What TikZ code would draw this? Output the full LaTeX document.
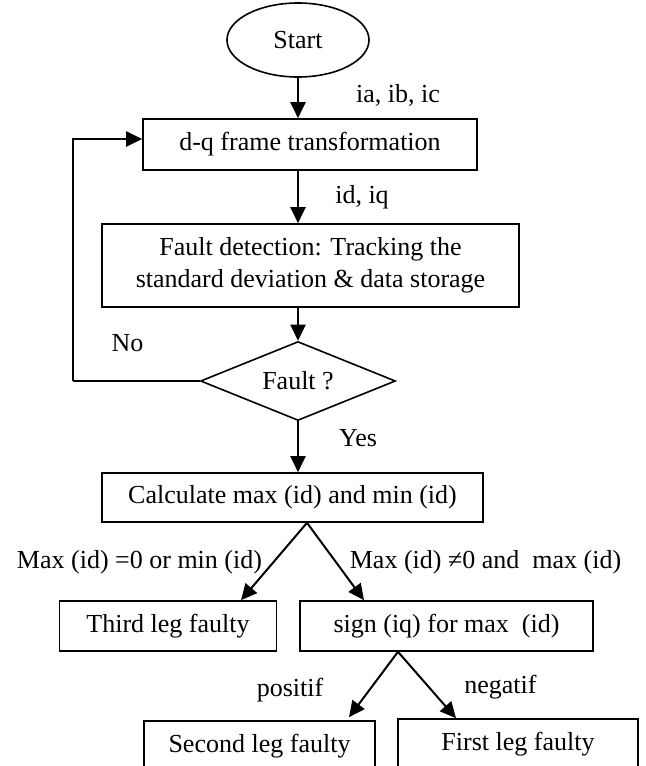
\documentclass[tikz,border=0pt]{standalone}
\usepackage{amsmath, amssymb}
\usepackage{fontspec}
\setmainfont{Liberation Serif}
\usepackage{tikz}
\usetikzlibrary{arrows.meta,positioning,shapes.geometric,calc}

\begin{document}
\begin{tikzpicture}[
        x=0.5pt, y=-0.5pt,
        font=\fontsize{13}{16}\selectfont,
        box/.style={draw, line width=0.8pt, minimum height=25pt, align=center, inner sep=2pt},
        startnode/.style={draw, ellipse, line width=0.8pt, minimum width=71pt, minimum height=37pt, inner sep=0pt},
        decision/.style={draw, diamond, aspect=2.4, line width=0.8pt, minimum width=97.5pt, minimum height=39.5pt, inner sep=0pt},
        lbl/.style={inner sep=0pt},
        arr/.style={-{Triangle[length=8pt,width=7.5pt]}, line width=1pt}
    ]
    \useasboundingbox (0,0) rectangle (646,766);

    \node[startnode] (start) at (298,40) {Start};
    \node[box, minimum width=167pt, minimum height=25.5pt] (dq) at (310,144.5) {d-q frame transformation};
    \node[box, minimum width=208.5pt, minimum height=41.5pt] (detect) at (310.5,265.5) {Fault detection: Tracking the\\ standard deviation \& data storage};
    \node[decision] (fault) at (298,381) {Fault ?};
    \node[box, minimum width=190.5pt, minimum height=24.5pt] (calc) at (292.5,497.5) {Calculate max (id) and min (id)};
    \node[box, minimum width=108.5pt] (third) at (168,626) {Third leg faulty};
    \node[box, minimum width=146.5pt] (sign) at (446.5,626) {sign (iq) for max~ (id)};
    \node[box, minimum width=115.5pt] (second) at (259.5,746) {Second leg faulty};
    \node[box, minimum width=120pt] (first) at (518,744) {First leg faulty};

    % labels
    \node[lbl] (lia) at (398,95) {ia, ib, ic};
    \node[lbl] (lid) at (362,197) {id, iq};
    \node[lbl] (lno) at (127.5,343) {No};
    \node[lbl] (lyes) at (358,438) {Yes};
    \node[lbl] (lzero) at (139.5,562) {Max (id) =0 or min (id)};
    \node[lbl] (lnonzero) at (485.5,562) {Max (id) ≠0 and~ max (id)};
    \node[lbl] (lpos) at (290,690) {positif};
    \node[lbl] (lneg) at (500.5,687) {negatif};

    \coordinate (back) at (73,381);

    \draw[arr] (start.south) -- (start.south |- dq.north);
    \draw[arr] (dq.south -| start) -- (detect.north -| start);
    \draw[arr] (detect.south -| start) -- (fault.north);
    \draw[arr] (fault.south) -- (fault.south |- calc.north);
    \draw[line width=1pt] (fault.west) -- (back);
    \draw[arr] (back) |- ([yshift=2.75pt]dq.west);

    \draw[arr] ([xshift=7.25pt]calc.south) -- ([xshift=36.5pt]third.north);
    \draw[arr] ([xshift=7.25pt]calc.south) -- ([xshift=-41.25pt]sign.north);
    \draw[arr] ([xshift=-24.25pt]sign.south) -- ([xshift=44.75pt,yshift=1.5pt]second.north);
    \draw[arr] ([xshift=-24.25pt]sign.south) -- ([xshift=-31pt]first.north);
\end{tikzpicture}
\end{document}
